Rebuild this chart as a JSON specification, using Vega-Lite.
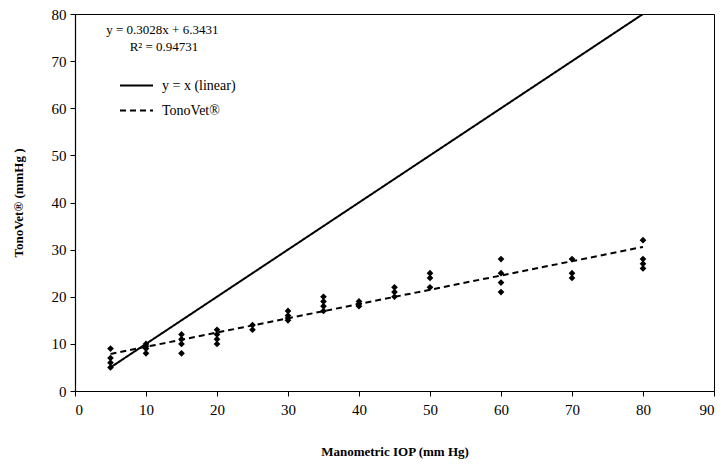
{
  "$schema": "https://vega.github.io/schema/vega-lite/v6.json",
  "width": 639,
  "height": 377,
  "autosize": {"type": "none"},
  "padding": {"left": 75, "top": 14, "right": 12, "bottom": 75},
  "background": "white",
  "config": {
    "font": "'Liberation Serif', 'Times New Roman', serif",
    "view": {"stroke": "black", "strokeWidth": 1},
    "text": {"font": "'Liberation Serif', 'Times New Roman', serif"},
    "legend": {"labelFont": "'Liberation Serif', 'Times New Roman', serif"},
    "axis": {
      "grid": false,
      "domainColor": "black",
      "domainWidth": 1.2,
      "tickColor": "black",
      "tickSize": 5,
      "labelColor": "black",
      "labelFont": "'Liberation Serif', 'Times New Roman', serif",
      "labelFontSize": 15,
      "titleFont": "'Liberation Serif', 'Times New Roman', serif",
      "titleFontSize": 13,
      "titleFontWeight": "bold",
      "titleColor": "black"
    }
  },
  "datasets": {
    "points": [
      {"iop": 5, "tv": 9}, {"iop": 5, "tv": 7}, {"iop": 5, "tv": 6}, {"iop": 5, "tv": 5},
      {"iop": 10, "tv": 10}, {"iop": 10, "tv": 9.5}, {"iop": 10, "tv": 9}, {"iop": 10, "tv": 8},
      {"iop": 15, "tv": 12}, {"iop": 15, "tv": 11}, {"iop": 15, "tv": 10}, {"iop": 15, "tv": 8},
      {"iop": 20, "tv": 13}, {"iop": 20, "tv": 12}, {"iop": 20, "tv": 11}, {"iop": 20, "tv": 10},
      {"iop": 25, "tv": 14}, {"iop": 25, "tv": 13},
      {"iop": 30, "tv": 17}, {"iop": 30, "tv": 16}, {"iop": 30, "tv": 15.5}, {"iop": 30, "tv": 15},
      {"iop": 35, "tv": 20}, {"iop": 35, "tv": 19}, {"iop": 35, "tv": 18}, {"iop": 35, "tv": 17},
      {"iop": 40, "tv": 19}, {"iop": 40, "tv": 18.5}, {"iop": 40, "tv": 18},
      {"iop": 45, "tv": 22}, {"iop": 45, "tv": 21}, {"iop": 45, "tv": 20},
      {"iop": 50, "tv": 25}, {"iop": 50, "tv": 24}, {"iop": 50, "tv": 22},
      {"iop": 60, "tv": 28}, {"iop": 60, "tv": 25}, {"iop": 60, "tv": 23}, {"iop": 60, "tv": 21},
      {"iop": 70, "tv": 28}, {"iop": 70, "tv": 25}, {"iop": 70, "tv": 24},
      {"iop": 80, "tv": 32}, {"iop": 80, "tv": 28}, {"iop": 80, "tv": 27}, {"iop": 80, "tv": 26}
    ],
    "lines": [
      {"series": "y = x (linear)", "iop": 5, "tv": 5},
      {"series": "y = x (linear)", "iop": 80, "tv": 80},
      {"series": "TonoVet®", "iop": 5, "tv": 7.86},
      {"series": "TonoVet®", "iop": 80, "tv": 30.57}
    ]
  },
  "layer": [
    {
      "data": {"name": "lines"},
      "mark": {"type": "line", "color": "black", "strokeWidth": 2, "clip": true},
      "encoding": {
        "x": {"field": "iop", "type": "quantitative",
          "scale": {"domain": [0, 90], "nice": false},
          "axis": {"values": [0,10,20,30,40,50,60,70,80,90], "title": "Manometric IOP (mm Hg)", "titlePadding": 28, "labelPadding": 6}},
        "y": {"field": "tv", "type": "quantitative",
          "scale": {"domain": [0, 80], "nice": false},
          "axis": {"values": [0,10,20,30,40,50,60,70,80], "title": "TonoVet® (mmHg )", "titlePadding": 26, "labelPadding": 4}},
        "strokeDash": {"field": "series", "type": "nominal",
          "scale": {"domain": ["y = x (linear)", "TonoVet®"], "range": [[1, 0], [6, 4]]},
          "legend": {"title": null, "orient": "none", "legendX": 44, "legendY": 54,
            "symbolType": "stroke", "symbolSize": 1089, "symbolStrokeWidth": 2, "symbolStrokeColor": "black",
            "labelFontSize": 14, "labelColor": "black",
            "rowPadding": -2, "labelOffset": 8}},
        "detail": {"field": "series"}
      }
    },
    {
      "data": {"name": "points"},
      "mark": {"type": "point", "shape": "diamond", "filled": true, "color": "black", "size": 45, "opacity": 1},
      "encoding": {
        "x": {"field": "iop", "type": "quantitative"},
        "y": {"field": "tv", "type": "quantitative"}
      }
    },
    {
      "data": {"values": [{}]},
      "mark": {"type": "text", "align": "left", "baseline": "middle", "fontSize": 13, "color": "black"},
      "encoding": {
        "x": {"datum": 4.4, "type": "quantitative"},
        "y": {"datum": 76.6, "type": "quantitative"},
        "text": {"value": "y = 0.3028x + 6.3431"}
      }
    },
    {
      "data": {"values": [{}]},
      "mark": {"type": "text", "align": "left", "baseline": "middle", "fontSize": 13, "color": "black"},
      "encoding": {
        "x": {"datum": 7.7, "type": "quantitative"},
        "y": {"datum": 73.1, "type": "quantitative"},
        "text": {"value": "R² = 0.94731"}
      }
    }
  ]
}
